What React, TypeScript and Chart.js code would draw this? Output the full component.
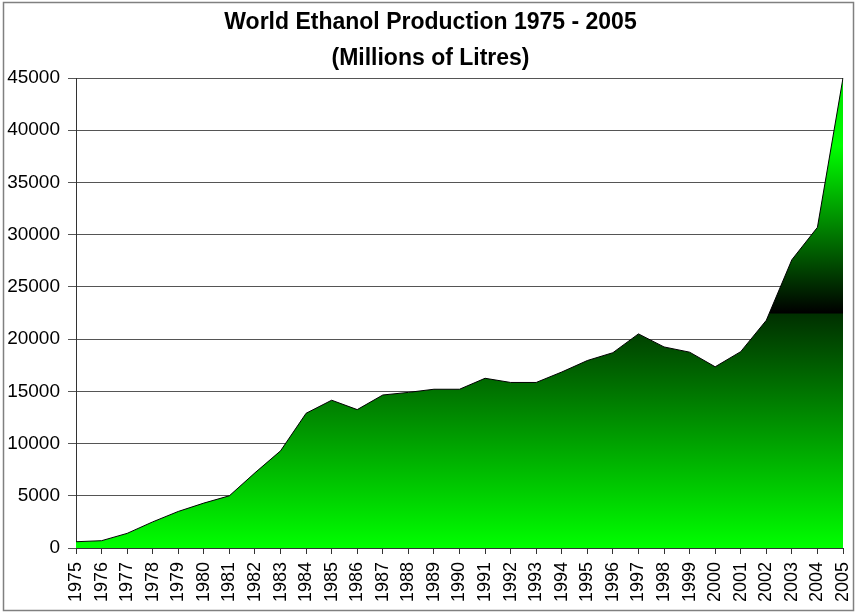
import React, { useEffect, useRef } from "react";
import { Chart, registerables } from "chart.js";

Chart.register(...registerables);

const years: string[] = [
  "1975", "1976", "1977", "1978", "1979", "1980", "1981", "1982", "1983", "1984",
  "1985", "1986", "1987", "1988", "1989", "1990", "1991", "1992", "1993", "1994",
  "1995", "1996", "1997", "1998", "1999", "2000", "2001", "2002", "2003", "2004", "2005",
];

const production: number[] = [
  600, 700, 1400, 2500, 3500, 4300, 5000, 7200, 9300, 12900,
  14150, 13250, 14650, 14900, 15200, 15200, 16250, 15850, 15850, 16850,
  17950, 18700, 20500, 19250, 18750, 17350, 18800, 21800, 27600, 30700, 45000,
];

const titleLines: string[] = ["World Ethanol Production 1975 - 2005", "(Millions of Litres)"];
const yMax = 45000;
const yStep = 5000;

const framePlugin = {
  id: "frame",
  beforeDraw(chart: any) {
    const ctx = chart.ctx;
    ctx.save();
    ctx.fillStyle = "#ffffff";
    ctx.fillRect(0, 0, chart.width, chart.height);
    ctx.restore();
  },
  afterDraw(chart: any) {
    const ctx = chart.ctx;
    ctx.save();
    ctx.strokeStyle = "#808080";
    ctx.lineWidth = 1.5;
    ctx.strokeRect(3.5, 2.5, chart.width - 7, chart.height - 5);
    ctx.restore();
  },
};

function makeGradient(context: any) {
  const chart = context.chart;
  const area = chart.chartArea;
  if (!area) return "#00ff00";
  const y = chart.scales.y;
  const top = y.getPixelForValue(yMax);
  const bottom = y.getPixelForValue(0);
  const g = chart.ctx.createLinearGradient(0, bottom, 0, top);
  const f = (v: number) => (bottom - y.getPixelForValue(v)) / (bottom - top);
  g.addColorStop(0, "#00ff00");
  g.addColorStop(f(22400), "#003000");
  g.addColorStop(f(22500), "#000000");
  g.addColorStop(f(38500), "#00ff00");
  g.addColorStop(1, "#00e000");
  return g;
}

export default function App() {
  const ref = useRef<HTMLCanvasElement | null>(null);

  useEffect(() => {
    if (!ref.current) return;
    const chart = new Chart(ref.current, {
      type: "line",
      data: {
        labels: years,
        datasets: [
          {
            data: production,
            fill: "origin",
            backgroundColor: makeGradient,
            borderColor: "#000000",
            borderWidth: 1,
            pointRadius: 0,
            tension: 0,
          },
        ],
      },
      plugins: [framePlugin],
      options: {
        animation: false,
        responsive: false,
        layout: { padding: { left: 4, right: 0, top: 0, bottom: 0 } },
        plugins: {
          legend: { display: false },
          tooltip: { enabled: false },
          title: {
            display: true,
            text: titleLines,
            color: "#000000",
            font: { family: "'Liberation Sans', Arial, sans-serif", size: 23, weight: "bold", lineHeight: "36px" },
            padding: { top: 5, bottom: 1 },
          },
        },
        scales: {
          x: {
            offset: false,
            afterFit: (s: any) => {
              s.height = 65;
              s.paddingRight = 14;
              s.paddingLeft = 0;
            },
            grid: {
              drawOnChartArea: false,
              drawTicks: true,
              tickLength: 6,
              color: "#333333",
            },
            border: { color: "#333333", width: 1 },
            ticks: {
              autoSkip: false,
              maxRotation: 90,
              minRotation: 90,
              padding: 8,
              color: "#000000",
              font: { family: "'Liberation Sans', Arial, sans-serif", size: 18 },
            },
          },
          y: {
            min: 0,
            max: yMax,
            afterFit: (s: any) => {
              s.width = 72;
            },
            grid: {
              color: "#555555",
              lineWidth: 1,
              drawTicks: true,
              tickLength: 8,
            },
            border: { color: "#333333", width: 1 },
            ticks: {
              stepSize: yStep,
              padding: 8,
              color: "#000000",
              font: { family: "'Liberation Sans', Arial, sans-serif", size: 19 },
              callback: (v: any) => String(v),
            },
          },
        },
      },
    });
    return () => chart.destroy();
  }, []);

  return (
    <div style={{ position: "fixed", left: 0, top: 0, width: 857, height: 613, background: "#fff" }}>
      <canvas ref={ref} width={857} height={613} style={{ display: "block", width: 857, height: 613 }} />
    </div>
  );
}
